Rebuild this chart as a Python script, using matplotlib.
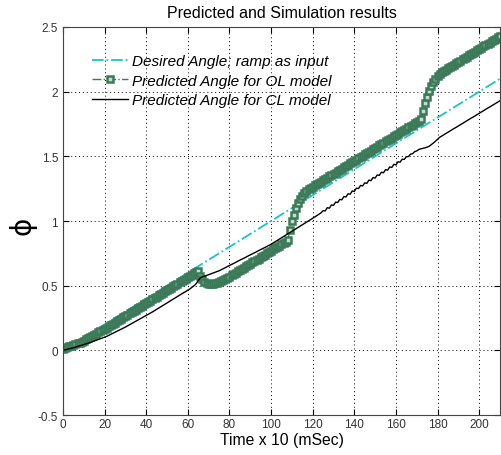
import matplotlib
matplotlib.use('Agg')
import matplotlib.pyplot as plt
import numpy as np

plt.rcParams['font.family'] = ['Liberation Sans', 'DejaVu Sans']

# time axis (x 10 ms), one sample per unit
t = np.arange(0, 211)

# desired angle (ramp input), end points
ramp_t = [0, 210]
ramp_phi = [0.0, 2.1]

# predicted angle, open loop model
ol_phi = [
    0.01, 0.018, 0.025, 0.03, 0.035, 0.04, 0.047, 0.053, 0.06, 0.068,
    0.075, 0.084, 0.093, 0.102, 0.111, 0.12, 0.129, 0.138, 0.147, 0.156,
    0.165, 0.175, 0.185, 0.195, 0.205, 0.215, 0.225, 0.235, 0.245, 0.255,
    0.265, 0.275, 0.285, 0.295, 0.305, 0.315, 0.325, 0.335, 0.345, 0.355,
    0.365, 0.375, 0.385, 0.395, 0.405, 0.415, 0.425, 0.435, 0.445, 0.455,
    0.465, 0.475, 0.485, 0.495, 0.505, 0.515, 0.525, 0.535, 0.545, 0.555,
    0.565, 0.575, 0.585, 0.595, 0.605, 0.615, 0.575, 0.548, 0.532, 0.522,
    0.516, 0.514, 0.515, 0.518, 0.522, 0.528, 0.535, 0.543, 0.551, 0.56,
    0.57, 0.58, 0.59, 0.60, 0.61, 0.62, 0.63, 0.64, 0.65, 0.66,
    0.67, 0.68, 0.69, 0.70, 0.71, 0.72, 0.73, 0.74, 0.75, 0.76,
    0.77, 0.78, 0.79, 0.80, 0.81, 0.82, 0.83, 0.84, 0.85, 0.93,
    1.00, 1.05, 1.10, 1.14, 1.17, 1.195, 1.215, 1.23, 1.245, 1.255,
    1.265, 1.275, 1.285, 1.295, 1.305, 1.315, 1.325, 1.335, 1.345, 1.355,
    1.365, 1.375, 1.385, 1.395, 1.405, 1.415, 1.425, 1.435, 1.445, 1.455,
    1.465, 1.475, 1.485, 1.495, 1.505, 1.515, 1.525, 1.535, 1.545, 1.555,
    1.565, 1.575, 1.585, 1.595, 1.605, 1.615, 1.625, 1.635, 1.645, 1.655,
    1.665, 1.675, 1.685, 1.695, 1.705, 1.715, 1.725, 1.735, 1.745, 1.755,
    1.765, 1.775, 1.785, 1.85, 1.91, 1.96, 2.005, 2.045, 2.075, 2.10,
    2.12, 2.135, 2.15, 2.16, 2.17, 2.18, 2.19, 2.20, 2.21, 2.22,
    2.23, 2.24, 2.25, 2.26, 2.27, 2.28, 2.29, 2.30, 2.31, 2.32,
    2.33, 2.34, 2.35, 2.36, 2.37, 2.38, 2.39, 2.40, 2.41, 2.42,
    2.43,
]

# predicted angle, closed loop model
cl_phi = [
    0.0, 0.004, 0.008, 0.012, 0.016, 0.02, 0.025, 0.03, 0.035, 0.04,
    0.045, 0.05, 0.055, 0.06, 0.066, 0.072, 0.078, 0.084, 0.09, 0.096,
    0.102, 0.108, 0.116, 0.124, 0.132, 0.14, 0.148, 0.156, 0.164, 0.172,
    0.18, 0.189, 0.198, 0.207, 0.216, 0.225, 0.234, 0.243, 0.252, 0.261,
    0.27, 0.279, 0.288, 0.297, 0.307, 0.317, 0.327, 0.337, 0.346, 0.356,
    0.366, 0.376, 0.386, 0.396, 0.406, 0.416, 0.426, 0.436, 0.446, 0.455,
    0.465, 0.475, 0.487, 0.50, 0.515, 0.54, 0.56, 0.567, 0.573, 0.579,
    0.585, 0.591, 0.597, 0.603, 0.609, 0.615, 0.623, 0.631, 0.639, 0.648,
    0.656, 0.664, 0.672, 0.68, 0.689, 0.697, 0.705, 0.713, 0.721, 0.73,
    0.738, 0.746, 0.754, 0.762, 0.771, 0.779, 0.787, 0.795, 0.803, 0.812,
    0.82, 0.83, 0.84, 0.85, 0.86, 0.87, 0.88, 0.89, 0.90, 0.91,
    0.92, 0.93, 0.94, 0.95, 0.96, 0.97, 0.98, 0.99, 1.00, 1.01,
    1.02, 1.031, 1.042, 1.052, 1.063, 1.080, 1.078, 1.103, 1.099, 1.124,
    1.121, 1.146, 1.143, 1.167, 1.164, 1.189, 1.186, 1.211, 1.207, 1.232,
    1.229, 1.254, 1.251, 1.275, 1.271, 1.295, 1.291, 1.316, 1.312, 1.336,
    1.332, 1.356, 1.353, 1.377, 1.373, 1.397, 1.393, 1.418, 1.414, 1.438,
    1.434, 1.458, 1.455, 1.478, 1.476, 1.497, 1.498, 1.517, 1.520, 1.536,
    1.542, 1.553, 1.558, 1.562, 1.566, 1.571, 1.578, 1.59, 1.603, 1.617,
    1.632, 1.647, 1.657, 1.667, 1.677, 1.686, 1.696, 1.706, 1.716, 1.725,
    1.735, 1.745, 1.755, 1.764, 1.774, 1.784, 1.794, 1.803, 1.813, 1.823,
    1.833, 1.842, 1.852, 1.862, 1.872, 1.881, 1.891, 1.901, 1.911, 1.920,
    1.930,
]

x_ticks = list(range(0, 201, 20))
y_ticks = [-0.5, 0, 0.5, 1, 1.5, 2, 2.5]
y_ticklabels = ['-0.5', '0', '0.5', '1', '1.5', '2', '2.5']

fig = plt.figure(figsize=(5.01, 4.56), dpi=100)
ax = fig.add_axes([0.1257, 0.0877, 0.8723, 0.8509])

ax.plot(ramp_t, ramp_phi, '-.', color='#1cc4c4', lw=1.3,
        label='Desired Angle; ramp as input')
ax.plot(t, ol_phi, '-.', color='#3b7a58', lw=1.0, marker='s', markersize=4.2,
        markerfacecolor='#c4ddcc', markeredgecolor='#3b7a58', markeredgewidth=1.8,
        label='Predicted Angle for OL model')
ax.plot(t, cl_phi, '-', color='black', lw=1.0,
        label='Predicted Angle for CL model')

ax.set_xlim(0, 210)
ax.set_ylim(-0.5, 2.5)
ax.set_xticks(x_ticks)
ax.set_yticks(y_ticks)
ax.set_yticklabels(y_ticklabels)
ax.tick_params(direction='in', top=True, right=True, labelsize=8.5,
               labelcolor='#333333', length=4)
ax.tick_params(axis='x', pad=2.5)
ax.grid(True, linestyle=(0, (1, 3)), color='black', lw=0.7)
for s in ax.spines.values():
    s.set_color('#444444')

ax.set_title('Predicted and Simulation results', fontsize=11.5, pad=7)
ax.set_xlabel('Time x 10 (mSec)', fontsize=11.3, labelpad=1)
fig.text(22 / 501, 1 - 226 / 456, '\u03d5', fontsize=20, rotation=90,
         ha='center', va='center', family='DejaVu Sans')

leg = ax.legend(loc='upper left', bbox_to_anchor=(0.035, 0.965), frameon=False,
                handlelength=2.35, handletextpad=0.26, labelspacing=0.35,
                prop={'style': 'italic', 'size': 11})

fig.savefig('out.png', dpi=100)
